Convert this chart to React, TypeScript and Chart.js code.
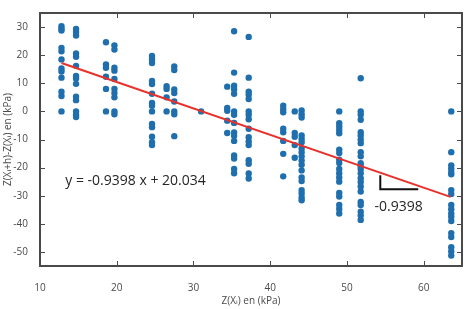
import React, { useEffect, useRef } from "react";
import { Chart, registerables } from "chart.js";

Chart.register(...registerables);

const xTicks = [10, 20, 30, 40, 50, 60];
const yTicks = [30, 20, 10, 0, -10, -20, -30, -40, -50];

// x position of each sampled column
const colX = [12.8, 14.7, 18.6, 19.7, 24.6, 26.5, 27.5, 31.0, 34.4, 35.3, 37.2, 41.7, 43.2, 44.1, 49.0, 51.8, 63.6];

const col1 = [30.3, 29.4, 28.8, 22.6, 21.4, 18.5, 15.3, 14.2, 12, 7, 5.5, 0];
const col2 = [29.3, 28.2, 27, 20.6, 19.4, 16.2, 12.6, 11.7, 9.8, 5.2, 4, 0, -1.2, -2];
const col3 = [24.6, 16.7, 15.5, 12.3, 8, 0];
const col4 = [23.5, 22, 15.5, 14.5, 11.5, 8, 6.5, 5, 0, -1];
const col5 = [19.7, 18.5, 17.2, 10.8, 9.7, 6.3, 3, 2, 0, -4.5, -5.6, -9, -11, -12];
const col6 = [9, 8, 5, 0];
const col7 = [16, 14.7, 7.8, 6.5, 3.5, 0, -1, -8.8];
const col8 = [0];
const col9 = [8.8, 1.2, 0.2, -3.3, -7.7];
const col10 = [28.5, 13.8, 9.1, 7.9, 6.3, 0, -1.2, -4.1, -7.5, -8.7, -10.5, -15.7, -16.8, -20.5, -22];
const col11 = [26.5, 12, 7, 5.9, 4.4, 0, -1.2, -2.8, -6.2, -9.2, -10.7, -12, -17.4, -18.6, -22.1, -23.9];
const col12 = [2, 0.8, -0.3, -6.2, -7.4, -10.5, -15.1, -23.1];
const col13 = [0, -7.7, -9, -12, -16.5];
const col14 = [0.3, -1, -2.2, -8.6, -9.8, -11, -13.2, -14.5, -16, -17.5, -19, -21, -23.5, -24.8, -28, -29.2, -30.6, -31.6];
const col15 = [0, -4.2, -5.4, -6.6, -7.8, -13.6, -14.8, -17.2, -18.4, -20.5, -22, -23.5, -25, -29, -30.3, -33.3, -34.7, -36.3];
const col16 = [11.8, 0, -1.2, -3, -7.4, -8.6, -10, -11.3, -14.5, -16, -18.4, -19.5, -20.5, -22, -23.8, -25.1, -26.7, -28.5, -32.2, -33.3, -35.7, -37, -38.6];
const col17 = [0, -14.5, -19.2, -20.4, -21.6, -22.4, -28, -29.4, -33.3, -34.8, -36.3, -37.5, -39, -43.3, -44.7, -48.3, -49.8, -51.3];
const colY = [col1, col2, col3, col4, col5, col6, col7, col8, col9, col10, col11, col12, col13, col14, col15, col16, col17];

// fitted trend line as drawn
const fitX = [12.8, 63.5];
const fitY = [17.2, -30.4];

// slope marker
const slopeX = [54.35, 54.35, 59.3];
const slopeY = [-22.7, -27.7, -27.7];

const eqText = "y = -0.9398 x + 20.034";
const eqPos = [13.3, -24.7];
const slopeText = "-0.9398";
const slopePos = [53.6, -33.9];

const xTitle = "Z(Xᵢ) en (kPa)";
const yTitle = "Z(Xᵢ+h)-Z(Xᵢ) en (kPa)";

const FONT = "'Open Sans', 'DejaVu Sans', sans-serif";
const AXIS = "#4a4a4a";
const LABEL = "#4a4a4a";

const boxPlugin = {
  id: "boxTicks",
  afterDatasetsDraw(chart: any) {
    const { ctx, chartArea: a, scales } = chart;
    const x = scales.x;
    const y = scales.y;
    ctx.save();
    ctx.fillStyle = "#262626";
    ctx.font = `14px ${FONT}`;
    ctx.textAlign = "left";
    ctx.textBaseline = "middle";
    ctx.fillText(eqText, x.getPixelForValue(eqPos[0]), y.getPixelForValue(eqPos[1]));
    ctx.fillText(slopeText, x.getPixelForValue(slopePos[0]), y.getPixelForValue(slopePos[1]));

    ctx.strokeStyle = AXIS;
    ctx.lineWidth = 2;
    ctx.strokeRect(a.left, a.top, a.right - a.left, a.bottom - a.top);
    const L = 5;
    ctx.lineWidth = 1;
    ctx.beginPath();
    for (const v of xTicks) {
      if (v === x.min) continue;
      const px = Math.round(x.getPixelForValue(v)) + 0.5;
      ctx.moveTo(px, a.top);
      ctx.lineTo(px, a.top + L);
      ctx.moveTo(px, a.bottom);
      ctx.lineTo(px, a.bottom - L);
    }
    for (const v of yTicks) {
      const py = Math.round(y.getPixelForValue(v)) + 0.5;
      ctx.moveTo(a.left, py);
      ctx.lineTo(a.left + L, py);
      ctx.moveTo(a.right, py);
      ctx.lineTo(a.right - L, py);
    }
    ctx.stroke();
    ctx.restore();
  },
};

export default function App() {
  const ref = useRef<HTMLCanvasElement | null>(null);

  useEffect(() => {
    document.body.style.margin = "0";
    const canvas = ref.current;
    if (!canvas) return;
    const points = colX.flatMap((cx, i) => colY[i].map((v) => ({ x: cx, y: v })));
    const chart = new Chart(canvas, {
      type: "scatter",
      data: {
        datasets: [
          {
            label: "slope",
            data: slopeX.map((v, i) => ({ x: v, y: slopeY[i] })),
            showLine: true,
            borderColor: "#111111",
            borderWidth: 2,
            pointRadius: 0,
            fill: false,
          } as any,
          {
            label: "fit",
            data: fitX.map((v, i) => ({ x: v, y: fitY[i] })),
            showLine: true,
            borderColor: "#e8312b",
            borderWidth: 2,
            pointRadius: 0,
            fill: false,
          } as any,
          {
            label: "data",
            data: points,
            backgroundColor: "#1f6fae",
            borderWidth: 0,
            pointRadius: 3.2,
          },
        ],
      },
      options: {
        responsive: false,
        animation: false,
        events: [],
        layout: { padding: { left: 0, top: 13, right: 10, bottom: 0 } },
        plugins: { legend: { display: false }, tooltip: { enabled: false } },
        scales: {
          x: {
            type: "linear",
            min: 10,
            max: 65,
            afterBuildTicks: (s: any) => {
              s.ticks = xTicks.map((v) => ({ value: v }));
            },
            afterFit: (s: any) => {
              s.height = 43;
            },
            grid: { display: false },
            border: { display: false },
            ticks: { font: { family: FONT, size: 10 }, color: LABEL, padding: 8, maxRotation: 0 },
            title: {
              display: true,
              text: xTitle,
              font: { family: FONT, size: 10 },
              color: LABEL,
              padding: { top: 0, bottom: 2 },
            },
          },
          y: {
            type: "linear",
            min: -55,
            max: 35,
            afterBuildTicks: (s: any) => {
              s.ticks = yTicks.map((v) => ({ value: v }));
            },
            afterFit: (s: any) => {
              s.width = 40;
            },
            grid: { display: false },
            border: { display: false },
            ticks: { font: { family: FONT, size: 10 }, color: LABEL, padding: 4 },
            title: {
              display: true,
              text: yTitle,
              font: { family: FONT, size: 10 },
              color: LABEL,
              padding: { top: 2, bottom: 0 },
            },
          },
        },
      },
      plugins: [boxPlugin],
    });
    return () => chart.destroy();
  }, []);

  return <canvas ref={ref} width={472} height={309} style={{ display: "block" }} />;
}
